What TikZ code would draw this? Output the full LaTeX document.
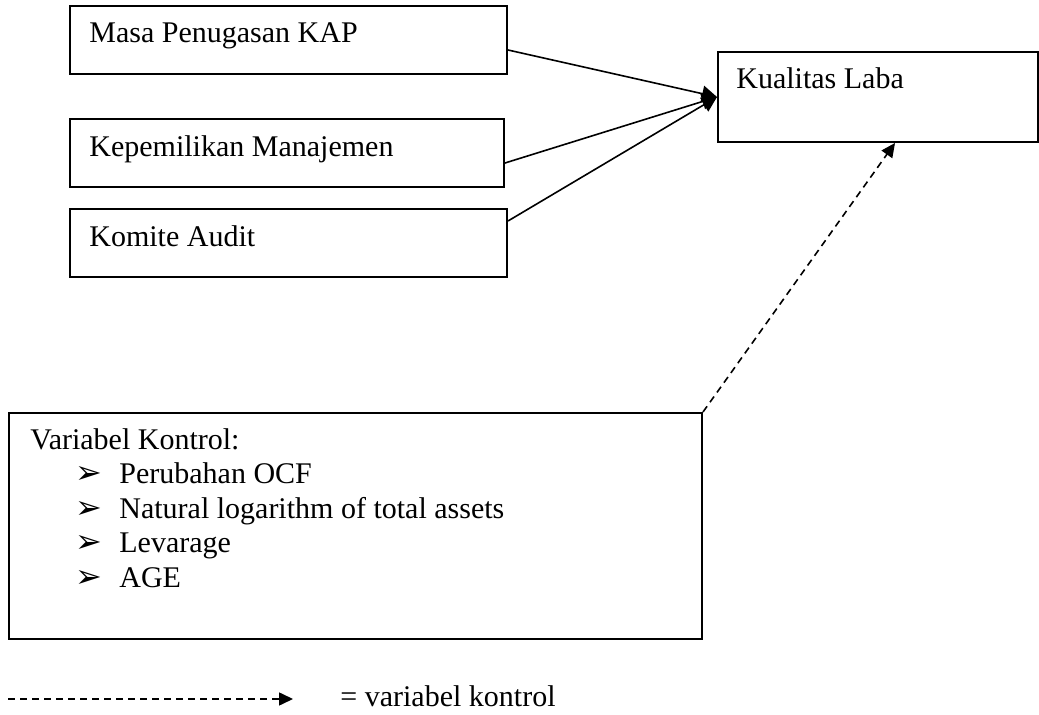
\documentclass[tikz,border=0pt]{standalone}
\usepackage{fontspec}
\setmainfont{Liberation Serif}
\newfontfamily\dvfont{DejaVu Sans}
\usetikzlibrary{arrows.meta}
\tikzset{
  box/.style={draw, line width=1pt, rectangle, inner sep=0pt, anchor=north west},
  txt/.style={anchor=base west, inner sep=0pt, font=\fontsize{15pt}{17pt}\selectfont},
  solidarrow/.style={line width=0.8pt, -{Triangle[length=7.5pt,width=8pt]}},
  dasharrow/.style={line width=0.8pt, dash pattern=on 3.5pt off 2.5pt, -{Triangle[length=7pt,width=6.5pt]}},
}
\newcommand{\bul}{\makebox[22pt][l]{\dvfont\fontsize{16pt}{16pt}\selectfont ➢}}
\begin{document}
\begin{tikzpicture}[x=0.5pt,y=-0.5pt]
\useasboundingbox (0,0) rectangle (1039,715);
% boxes
\node[box, minimum width=218.5pt, minimum height=34pt] (b1) at (69,5) {};
\node[box, minimum width=217pt, minimum height=34pt] (b2) at (69,118) {};
\node[box, minimum width=218.5pt, minimum height=34pt] (b3) at (69,208) {};
\node[box, minimum width=160pt, minimum height=45pt] (kl) at (717,51) {};
\node[box, minimum width=346.5pt, minimum height=113pt] (ctrl) at (8,412) {};
% texts
\node[txt] (t1) at (89,43) {Masa Penugasan KAP};
\node[txt] (t2) at (89,157) {Kepemilikan Manajemen};
\node[txt] (t3) at (89,247) {Komite Audit};
\node[txt] (tk) at (736,89) {Kualitas Laba};
\node[txt] (tc) at (30,450) {Variabel Kontrol:};
\node[txt] (i1) at (75,484) {\bul Perubahan OCF};
\node[txt] (i2) at (75,518.5) {\bul Natural logarithm of total assets};
\node[txt] (i3) at (75,553) {\bul Levarage};
\node[txt] (i4) at (75,587.5) {\bul AGE};
% connectors
\coordinate (tip) at ([yshift=-23pt]kl.north west);
\draw[solidarrow] ([yshift=-22.5pt]b1.north east) -- (tip);
\draw[solidarrow] ([yshift=-22.5pt]b2.north east) -- (tip);
\draw[solidarrow] ([yshift=-6.5pt]b3.north east) -- (tip);
\draw[dasharrow] (ctrl.north east) -- ([xshift=89pt]kl.south west);
% legend
\coordinate (ls) at (8,699);
\coordinate (le) at (293,699);
\draw[dasharrow] (ls) -- (le);
\node[txt] (lt) at (340,706) {= variabel kontrol};
\end{tikzpicture}
\end{document}
